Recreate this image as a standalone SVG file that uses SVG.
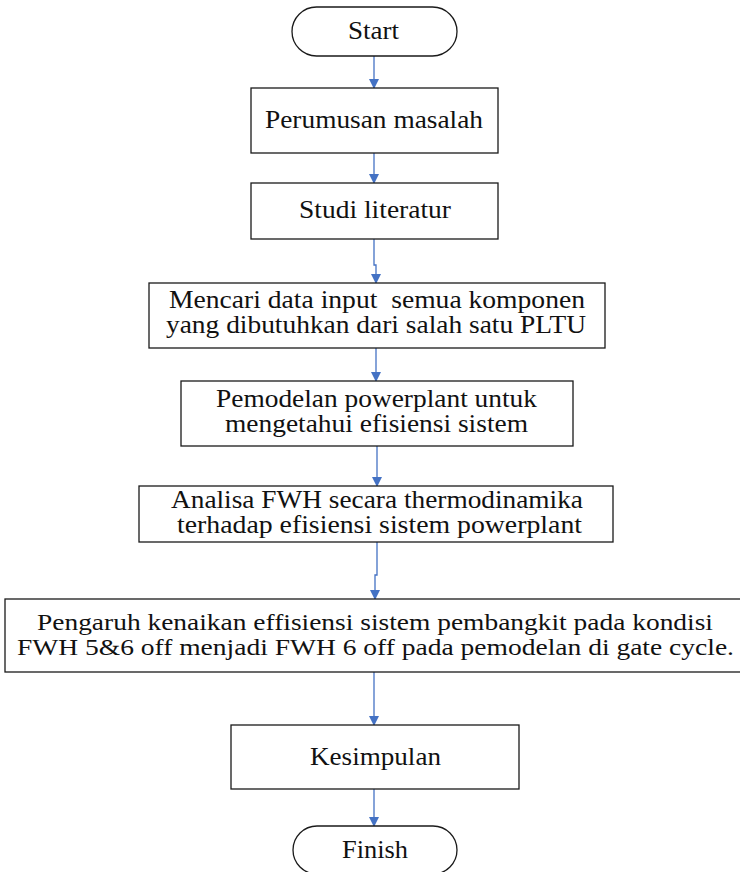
<svg xmlns="http://www.w3.org/2000/svg" width="740" height="872" viewBox="0 0 740 872">
  <style>
    .box { fill: #ffffff; stroke: #1a1a1a; stroke-width: 1.3; }
    .lbl { font-family: "Liberation Serif", serif; font-size: 25px; fill: #111111; }
    .lbl6 { font-family: "Liberation Serif", serif; font-size: 23px; fill: #111111; }
    .conn { fill: none; stroke: #4472C4; stroke-width: 1.3; }
  </style>
  <defs>
    <marker id="arrow" markerWidth="10" markerHeight="10" refX="9" refY="5" orient="auto" markerUnits="userSpaceOnUse">
      <path d="M0,0 L10,5 L0,10 Z" fill="#4472C4"/>
    </marker>
  </defs>
  <rect width="740" height="872" fill="#ffffff"/>

  <g id="connectors">
    <path class="conn" d="M374,56 V88" marker-end="url(#arrow)"/>
    <path class="conn" d="M374,153 V183" marker-end="url(#arrow)"/>
    <path class="conn" d="M374,239 V265 H376 V283" marker-end="url(#arrow)"/>
    <path class="conn" d="M376,348 V381" marker-end="url(#arrow)"/>
    <path class="conn" d="M377,446 V486" marker-end="url(#arrow)"/>
    <path class="conn" d="M377,542 V575 H375 V599" marker-end="url(#arrow)"/>
    <path class="conn" d="M374,672 V725" marker-end="url(#arrow)"/>
    <path class="conn" d="M374,789 V826" marker-end="url(#arrow)"/>
  </g>

  <g id="start">
    <rect class="box" x="292" y="7" width="165" height="49" rx="24.5" ry="24.5"/>
    <text class="lbl" x="348" y="39" textLength="51" lengthAdjust="spacingAndGlyphs">Start</text>
  </g>

  <g id="perumusan">
    <rect class="box" x="251" y="88" width="247" height="65"/>
    <text class="lbl" x="265" y="128" textLength="218" lengthAdjust="spacingAndGlyphs">Perumusan masalah</text>
  </g>

  <g id="studi">
    <rect class="box" x="251" y="183" width="247" height="56"/>
    <text class="lbl" x="299" y="218" textLength="152" lengthAdjust="spacingAndGlyphs">Studi literatur</text>
  </g>

  <g id="data">
    <rect class="box" x="149" y="283" width="456" height="65"/>
    <text class="lbl" x="169" y="308" textLength="416" lengthAdjust="spacingAndGlyphs" xml:space="preserve">Mencari data input  semua komponen</text>
    <text class="lbl" x="166" y="333" textLength="420" lengthAdjust="spacingAndGlyphs">yang dibutuhkan dari salah satu PLTU</text>
  </g>

  <g id="pemodelan">
    <rect class="box" x="181" y="381" width="392" height="65"/>
    <text class="lbl" x="216" y="407" textLength="321" lengthAdjust="spacingAndGlyphs">Pemodelan powerplant untuk</text>
    <text class="lbl" x="225" y="432" textLength="303" lengthAdjust="spacingAndGlyphs">mengetahui efisiensi sistem</text>
  </g>

  <g id="analisa">
    <rect class="box" x="139" y="486" width="474" height="56"/>
    <text class="lbl" x="171" y="508" textLength="412" lengthAdjust="spacingAndGlyphs">Analisa FWH secara thermodinamika</text>
    <text class="lbl" x="177" y="533" textLength="405" lengthAdjust="spacingAndGlyphs">terhadap efisiensi sistem powerplant</text>
  </g>

  <g id="pengaruh">
    <rect class="box" x="5" y="599" width="745" height="73"/>
    <text class="lbl6" x="37" y="630" textLength="676" lengthAdjust="spacingAndGlyphs">Pengaruh kenaikan effisiensi sistem pembangkit pada kondisi</text>
    <text class="lbl6" x="17" y="655" textLength="717" lengthAdjust="spacingAndGlyphs">FWH 5&amp;6 off menjadi FWH 6 off pada pemodelan di gate cycle.</text>
  </g>

  <g id="kesimpulan">
    <rect class="box" x="231" y="725" width="288" height="64"/>
    <text class="lbl" x="310" y="765" textLength="131" lengthAdjust="spacingAndGlyphs">Kesimpulan</text>
  </g>

  <g id="finish">
    <rect class="box" x="293" y="826" width="164" height="48" rx="24" ry="24"/>
    <text class="lbl" x="342" y="858" textLength="66" lengthAdjust="spacingAndGlyphs">Finish</text>
  </g>
</svg>
